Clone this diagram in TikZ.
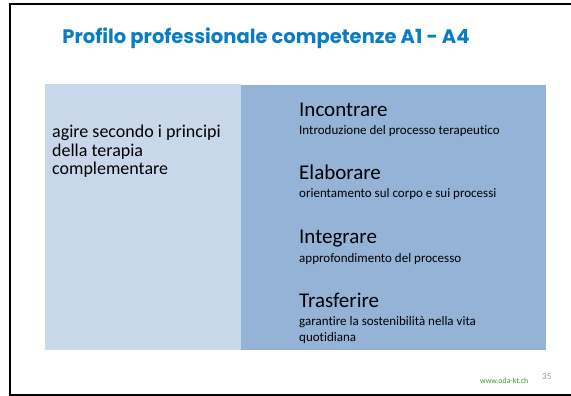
\documentclass[tikz,border=0pt]{standalone}
\usepackage{fontspec}
\setmainfont{Carlito}[Ligatures=NoCommon]
\newfontfamily\titlefont{Poppins}
\definecolor{lightbox}{HTML}{C8D7EA}
\definecolor{darkbox}{HTML}{95B3D7}
\definecolor{titleblue}{HTML}{0A7CC6}
\definecolor{webgreen}{HTML}{3A9A2A}
\definecolor{pagegray}{HTML}{9A9A9A}
\tikzset{
  head/.style={anchor=base west, inner sep=0pt, font=\fontsize{21}{24}\selectfont},
  sub/.style={anchor=base west, inner sep=0pt, font=\fontsize{13}{15.5}\selectfont, align=left},
}
\begin{document}
\begin{tikzpicture}[x=1pt,y=-1pt]
\useasboundingbox (0,0) rectangle (571,396);
\fill[white] (0,0) rectangle (571,396);
% frame
\draw[line width=2.2pt] (571,4) -- (10,4) -- (10,395) -- (571,395);
% title
\node[inner sep=0pt, anchor=base, text=titleblue, font=\titlefont\bfseries\fontsize{19.5}{22}\selectfont] (title) at (266,44) {Profilo professionale competenze A1 - A4};
% boxes
\fill[lightbox] (45,84) rectangle (241,350);
\fill[darkbox] (241,85) rectangle (546,350);
% left text (base = last line)
\node[anchor=base west, inner sep=0pt, align=left, font=\fontsize{18}{18.5}\selectfont] (left) at (52,175) {agire secondo i principi\\della terapia\\complementare};
% right items
\node[head] (h1) at (299,117) {Incontrare};
\node[sub] (s1) at (299,135) {Introduzione del processo terapeutico};
\node[head] (h2) at (299,179) {Elaborare};
\node[sub] (s2) at (299,197) {orientamento sul corpo e sui processi};
\node[head] (h3) at (299,243) {Integrare};
\node[sub] (s3) at (299,262) {approfondimento del processo};
\node[head] (h4) at (299,307) {Trasferire};
\node[sub] (s4) at (299,341) {garantire la sostenibilità nella vita\\quotidiana};
% footer
\node[anchor=base west, inner sep=0pt, text=webgreen, font=\fontsize{7.8}{9}\selectfont] (web) at (480,383) {www.oda-kt.ch};
\node[anchor=base west, inner sep=0pt, text=pagegray, font=\fontsize{9}{10}\selectfont] (page) at (542,379) {35};
\end{tikzpicture}
\end{document}
